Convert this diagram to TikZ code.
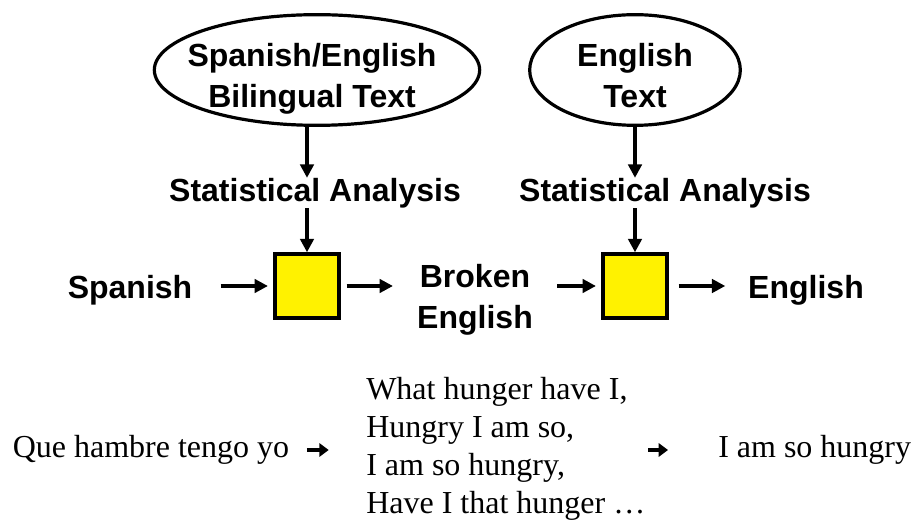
\documentclass[tikz,border=0pt]{standalone}
\usepackage{fontspec}
\setmainfont{Liberation Serif}
\setsansfont{Liberation Sans}
\usetikzlibrary{shapes.geometric,arrows.meta}

\tikzset{
  big/.style={font=\sffamily\bfseries\fontsize{24}{30.75}\selectfont, align=center, inner sep=0pt},
  oval/.style={draw, ellipse, line width=2.4pt, minimum height=83pt},
  proc/.style={draw, line width=2.6pt, fill=yellow, minimum size=48pt},
  arr/.style={line width=2.5pt, -{Triangle[length=10pt,width=10pt]}},
  plain/.style={font=\fontsize{24}{28.5}\selectfont, inner sep=0pt},
  sarr/.style={line width=2.8pt, -{Triangle[length=7pt,width=10pt]}},
}

\begin{document}
\begin{tikzpicture}[x=0.75pt,y=-0.75pt]
\useasboundingbox (0,0) rectangle (914,523);

% Training texts
\node[oval, minimum width=244pt] (bitext) at (317,70) {};
\node[big] (bitextlbl) at (312,79) {Spanish/English\\Bilingual Text};
\node[oval, minimum width=158pt] (entext) at (635,70) {};
\node[big] (entextlbl) at (635,76) {English\\Text};

\node[big] (stat1) at (315,193) {Statistical Analysis};
\node[big] (stat2) at (665,193) {Statistical Analysis};

% Models
\node[proc] (box1) at (307,286) {};
\node[proc] (box2) at (635,286) {};

\node[big] (src) at (130,290) {Spanish};
\node[big] (broken) at (475,300) {Broken\\English};
\node[big] (tgt) at (806,290) {English};

\draw[arr] (box1.north |- bitext.south) -- (box1.north |- stat1.north);
\draw[arr] (box1.north |- stat1.south) -- (box1.north);
\draw[arr] (entext.south) -- (entext.south |- stat2.north);
\draw[arr] (box2.north |- stat2.south) -- (box2.north);

\draw[arr, shorten <=21pt, shorten >=4pt] (box1.west -| src.east) -- (box1.west);
\draw[arr, shorten <=4.5pt, shorten >=18pt] (box1.east) -- (box1.east -| broken.west);
\draw[arr, shorten <=18pt, shorten >=4pt] (box2.west -| broken.east) -- (box2.west);
\draw[arr, shorten <=7.5pt, shorten >=17pt] (box2.east) -- (box2.east -| tgt.west);

% Example
\node[plain] (que) at (151,450) {Que hambre tengo yo};
\node[plain, align=left, anchor=west] (cands) at (366,449) {What hunger have I,\\Hungry I am so,\\I am so hungry,\\Have I that hunger \dots};
\node[plain, anchor=west] (out) at (718,450) {I am so hungry};
\coordinate (outfrom) at ([xshift=-52.5pt]out.west);

\draw[sarr, shorten <=13pt, shorten >=28pt] (que.east) -- (que.east -| cands.west);
\draw[sarr, shorten >=37.5pt] (outfrom) -- (out.west);
\end{tikzpicture}
\end{document}
